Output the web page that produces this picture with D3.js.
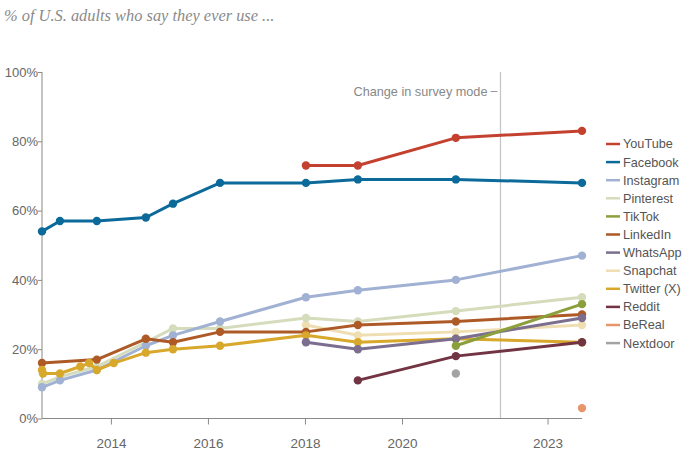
<!DOCTYPE html>
<html>
<head>
<meta charset="utf-8">
<script src="https://cdn.jsdelivr.net/npm/d3@7"></script>
<style>
  body { margin: 0; background: #fff; }
  svg { display: block; }
</style>
</head>
<body>
<svg id="chart" width="700" height="462"></svg>
<script>
// ---- Data ----
const yTicks = [0, 20, 40, 60, 80, 100];
const xTicks = [2014, 2016, 2018, 2020, 2023];
const surveyModeChange = 2022.03;

// survey dates (decimal years)
const youtube   = [[2018.02, 73], [2019.09, 73], [2021.11, 81], [2023.71, 83]];
const facebook  = [[2012.58, 54], [2012.95, 57], [2013.71, 57], [2014.72, 58], [2015.28, 62], [2016.25, 68], [2018.02, 68], [2019.09, 69], [2021.11, 69], [2023.71, 68]];
const instagram = [[2012.58, 9], [2012.95, 11], [2013.71, 14], [2014.72, 21], [2015.28, 24], [2016.25, 28], [2018.02, 35], [2019.09, 37], [2021.11, 40], [2023.71, 47]];
const pinterest = [[2012.58, 10], [2012.95, 12], [2013.71, 15], [2014.72, 22], [2015.28, 26], [2016.25, 26], [2018.02, 29], [2019.09, 28], [2021.11, 31], [2023.71, 35]];
const tiktok    = [[2021.11, 21], [2023.71, 33]];
const linkedin  = [[2012.58, 16], [2013.71, 17], [2014.72, 23], [2015.28, 22], [2016.25, 25], [2018.02, 25], [2019.09, 27], [2021.11, 28], [2023.71, 30]];
const whatsapp  = [[2018.02, 22], [2019.09, 20], [2021.11, 23], [2023.71, 29]];
const snapchat  = [[2018.02, 27], [2019.09, 24], [2021.11, 25], [2023.71, 27]];
const twitter   = [[2012.58, 14], [2012.6, 13], [2012.95, 13], [2013.37, 15], [2013.55, 16], [2013.71, 14], [2014.06, 16], [2014.72, 19], [2015.28, 20], [2016.25, 21], [2018.02, 24], [2019.09, 22], [2021.11, 23], [2023.71, 22]];
const reddit    = [[2019.09, 11], [2021.11, 18], [2023.71, 22]];
const bereal    = [[2023.71, 3]];
const nextdoor  = [[2021.11, 13]];

const seriesNames  = ["YouTube", "Facebook", "Instagram", "Pinterest", "TikTok", "LinkedIn", "WhatsApp", "Snapchat", "Twitter (X)", "Reddit", "BeReal", "Nextdoor"];
const seriesData   = [youtube, facebook, instagram, pinterest, tiktok, linkedin, whatsapp, snapchat, twitter, reddit, bereal, nextdoor];
const seriesColors = ["#c4402f", "#0b6a99", "#a0b1d3", "#d5dcbc", "#8ba03d", "#ae5a26", "#7b6e8e", "#efdeb1", "#d8a82c", "#723443", "#e8956c", "#a3a3a3"];

// draw order (bottom to top)
const drawOrder = [7, 3, 2, 5, 8, 6, 4, 9, 10, 11, 1, 0];

// ---- Layout ----
const svg = d3.select("#chart");
const x = d3.scaleLinear().domain([2012.58, 2023.71]).range([42, 582]);
const y = d3.scaleLinear().domain([0, 100]).range([418.5, 72]);

const labelFont = "'Liberation Sans', Arial, sans-serif";

// Title
svg.append("text")
  .attr("x", 4).attr("y", 21)
  .attr("font-family", "'Liberation Serif', 'DejaVu Serif', Georgia, serif")
  .attr("font-style", "italic")
  .attr("font-size", 16.4)
  .attr("fill", "#8a8a8a")
  .text("% of U.S. adults who say they ever use ...");

// Survey mode line
svg.append("line")
  .attr("x1", x(surveyModeChange)).attr("x2", x(surveyModeChange))
  .attr("y1", y(100)).attr("y2", y(0))
  .attr("stroke", "#c4c4c4").attr("stroke-width", 1.2);
svg.append("line")
  .attr("x1", x(surveyModeChange) - 10).attr("x2", x(surveyModeChange) - 3)
  .attr("y1", 91.5).attr("y2", 91.5)
  .attr("stroke", "#999").attr("stroke-width", 1);
svg.append("text")
  .attr("x", x(surveyModeChange) - 13).attr("y", 95.8)
  .attr("text-anchor", "end")
  .attr("font-family", labelFont).attr("font-size", 12.7)
  .attr("fill", "#888")
  .text("Change in survey mode");

// Y axis
const yAxis = svg.append("g")
  .attr("transform", "translate(42,0)")
  .call(d3.axisLeft(y).tickValues(yTicks).tickSize(4).tickFormat(d => d + "%"));
yAxis.select(".domain").attr("stroke", "#8a8a8a").attr("d", `M0,${y(100)}V${y(0)}`);
yAxis.selectAll(".tick line").attr("stroke", "#8a8a8a");
yAxis.selectAll(".tick text")
  .attr("font-family", labelFont).attr("font-size", 13)
  .attr("fill", "#666").attr("x", -4).attr("dy", "0.32em");

// X axis
const xAxis = svg.append("g")
  .attr("transform", `translate(0,${y(0)})`)
  .call(d3.axisBottom(x).tickValues(xTicks).tickSize(6).tickFormat(d3.format("d")));
xAxis.select(".domain").attr("stroke", "#8a8a8a").attr("d", `M${x.range()[0]},0H${x.range()[1]}`);
xAxis.selectAll(".tick line").attr("stroke", "#8a8a8a");
xAxis.selectAll(".tick text")
  .attr("font-family", labelFont).attr("font-size", 13.5)
  .attr("fill", "#666").attr("y", 20);

// Lines and points
const line = d3.line().x(d => x(d[0])).y(d => y(d[1]));
const plot = svg.append("g");
drawOrder.forEach(i => {
  const g = plot.append("g");
  const data = seriesData[i];
  if (data.length > 1) {
    g.append("path")
      .datum(data)
      .attr("d", line)
      .attr("fill", "none")
      .attr("stroke", seriesColors[i])
      .attr("stroke-width", 3)
      .attr("stroke-linejoin", "round")
      .attr("stroke-linecap", "round");
  }
  g.selectAll("circle")
    .data(data)
    .join("circle")
    .attr("cx", d => x(d[0]))
    .attr("cy", d => y(d[1]))
    .attr("r", 4.2)
    .attr("fill", seriesColors[i]);
});

// Legend
const legend = svg.append("g").attr("transform", "translate(606,144)");
seriesNames.forEach((name, i) => {
  const row = legend.append("g").attr("transform", `translate(0,${i * 18.1})`);
  row.append("line")
    .attr("x1", 0).attr("x2", 14).attr("y1", 0).attr("y2", 0)
    .attr("stroke", seriesColors[i]).attr("stroke-width", 2.5);
  row.append("text")
    .attr("x", 17).attr("y", 0).attr("dy", "0.35em")
    .attr("font-family", labelFont).attr("font-size", 12.7)
    .attr("fill", "#555")
    .text(name);
});
</script>
</body>
</html>
